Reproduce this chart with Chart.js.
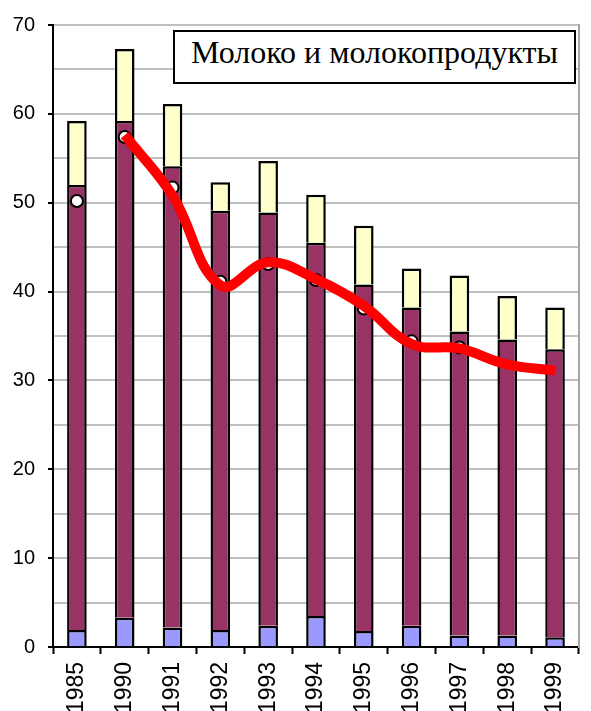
<!DOCTYPE html>
<html>
<head>
<meta charset="utf-8">
<script src="https://cdn.jsdelivr.net/npm/chart.js@4.4.1/dist/chart.umd.min.js"></script>
<style>
  html, body { margin: 0; padding: 0; background: #fff; }
  #wrap { position: relative; width: 591px; height: 711px; }
  #chartTitle {
    position: absolute; left: 173px; top: 30px; width: 403px; height: 54px;
    box-sizing: border-box; border: 2px solid #000; background: #fff;
    font-family: "Liberation Serif", "Times New Roman", serif; font-size: 32px;
    line-height: 41px; text-align: center; color: #000; white-space: nowrap;
  }
</style>
</head>
<body>
<div id="wrap">
  <canvas id="chartCanvas" width="591" height="711"></canvas>
  <div id="chartTitle">Молоко и молокопродукты</div>
</div>
<script>
const years = ["1985", "1990", "1991", "1992", "1993", "1994", "1995", "1996", "1997", "1998", "1999"];
const blueVals = [1.9, 3.3, 2.2, 1.9, 2.4, 3.5, 1.8, 2.4, 1.3, 1.3, 1.1];
const purpleVals = [50.1, 55.9, 51.9, 47.2, 46.5, 42.0, 39.0, 35.8, 34.2, 33.3, 32.4];
const yellowVals = [7.2, 8.1, 7.0, 3.2, 5.8, 5.4, 6.6, 4.4, 6.3, 4.9, 4.7];
const circleVals = [50.2, 57.4, 51.7, 41.1, 43.1, 41.3, 38.1, 34.4, 33.7, null, null];
const trendVals = [null, 57.6, 50.8, 40.7, 43.3, 41.4, 38.4, 34.1, 33.6, 31.8, 31.1];
const yTicks = [0, 10, 20, 30, 40, 50, 60, 70];

const barStyle = { type: "bar", borderColor: "#000", borderWidth: 2.5, order: 3, stack: "bars",
  barPercentage: 0.41, categoryPercentage: 1 };

const ctx = document.getElementById("chartCanvas").getContext("2d");
new Chart(ctx, {
  data: {
    labels: years,
    datasets: [
      { ...barStyle, label: "blue", data: blueVals, backgroundColor: "#9999ff" },
      { ...barStyle, label: "purple", data: purpleVals, backgroundColor: "#993366" },
      { ...barStyle, label: "yellow", data: yellowVals, backgroundColor: "#ffffcc" },
      { type: "line", label: "points", data: circleVals, stack: "pts", order: 2, showLine: false,
        pointRadius: 6, pointBackgroundColor: "#fff", pointBorderColor: "#000", pointBorderWidth: 2 },
      { type: "line", label: "trend", data: trendVals, stack: "trend", order: 1, borderColor: "#ff0000",
        borderWidth: 10, tension: 0.4, pointRadius: 0, borderCapStyle: "butt", fill: false }
    ]
  },
  options: {
    responsive: false,
    animation: false,
    layout: { padding: { top: 21, left: 0, right: 0, bottom: 0 } },
    plugins: { legend: { display: false }, tooltip: { enabled: false } },
    scales: {
      x: {
        stacked: true,
        grid: { offset: true, drawOnChartArea: false, drawTicks: true, tickLength: 7, tickColor: "#000", tickWidth: 2 },
        border: { color: "#000", width: 2 },
        ticks: { minRotation: 90, maxRotation: 90, padding: 8, color: "#000",
          font: { family: "Liberation Sans, Arial, sans-serif", size: 23 } },
        afterFit: s => { s.height = 64; }
      },
      y: {
        stacked: true, min: 0, max: 70,
        grid: { color: "#c0c0c0", lineWidth: 2, tickLength: 5, tickWidth: 2,
          tickColor: c => yTicks.includes(c.tick.value) ? "#000" : "rgba(0,0,0,0)" },
        border: { color: "#000", width: 2 },
        ticks: { stepSize: 5, padding: 13, color: "#000",
          font: { family: "Liberation Sans, Arial, sans-serif", size: 20 },
          callback: v => yTicks.includes(v) ? v : "" },
        afterFit: s => { s.width = 53; }
      },
      y2: {
        position: "right", min: 0, max: 70,
        grid: { drawOnChartArea: false, drawTicks: false },
        border: { color: "#a6a6a6", width: 2 },
        ticks: { display: false },
        afterFit: s => { s.width = 2; }
      }
    }
  }
});
</script>
</body>
</html>
